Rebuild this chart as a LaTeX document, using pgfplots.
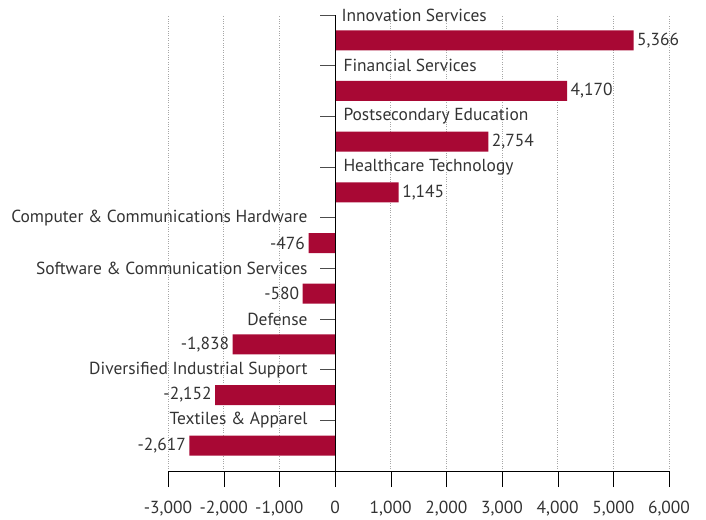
\documentclass[border=0pt]{standalone}
\usepackage{fontspec}
\setmainfont{PT Sans}
\usepackage{pgfplots}
\pgfplotsset{compat=1.18}
\definecolor{barred}{RGB}{168,8,52}
\definecolor{txt}{RGB}{51,51,51}
\newcommand{\lblfont}{\fontsize{17.5}{20}\selectfont}

\begin{document}
\begin{tikzpicture}
\begin{axis}[
    scale only axis,
    width=501bp, height=456bp,
    xmin=-3000, xmax=6000,
    ymin=0, ymax=9,
    xbar, bar width=20bp, bar shift=0pt,
    axis x line*=bottom,
    axis y line=none,
    xtick={-3000,-2000,...,6000},
    xticklabels={-3{,}000,-2{,}000,-1{,}000,0,1{,}000,2{,}000,3{,}000,4{,}000,5{,}000,6{,}000},
    tick align=outside,
    major tick length=16bp,
    xtick style={black},
    x tick label style={font=\lblfont, text=txt, yshift=-11bp},
    xmajorgrids,
    grid style={dotted, gray!70},
    nodes near coords,
    point meta=explicit symbolic,
    every node near coord/.append style={font=\lblfont, text=txt},
    clip=false,
]
% positive
\addplot[fill=barred, draw=none, every node near coord/.append style={anchor=west, xshift=0bp}]
coordinates {
(5366,8.5) [5{,}366]
(4170,7.5) [4{,}170]
(2754,6.5) [2{,}754]
(1145,5.5) [1{,}145]
};
% negative
\addplot[fill=barred, draw=none, every node near coord/.append style={anchor=east, xshift=0bp}]
coordinates {
(-476,4.5) [-476]
(-580,3.5) [-580]
(-1838,2.5) [-1{,}838]
(-2152,1.5) [-2{,}152]
(-2617,0.5) [-2{,}617]
};
\draw[black, thick] (axis cs:0,0) -- (axis cs:0,9);
\pgfplotsinvokeforeach{1,...,9}{
  \draw[gray!60!black, thick] ([xshift=-15bp]axis cs:0,#1) -- (axis cs:0,#1);
}
\begin{scope}[font=\lblfont, text=txt]
\node[anchor=west] at ([xshift=3bp]axis cs:0,9) {Innovation Services};
\node[anchor=west] at ([xshift=5bp]axis cs:0,8) {Financial Services};
\node[anchor=west] at ([xshift=5bp]axis cs:0,7) {Postsecondary Education};
\node[anchor=west] at ([xshift=5bp]axis cs:0,6) {Healthcare Technology};
\node[anchor=east] at ([xshift=-24bp]axis cs:0,5) {Computer \& Communications Hardware};
\node[anchor=east] at ([xshift=-24bp]axis cs:0,4) {Software \& Communication Services};
\node[anchor=east] at ([xshift=-24bp]axis cs:0,3) {Defense};
\node[anchor=east] at ([xshift=-24bp]axis cs:0,2) {Diversified Industrial Support};
\node[anchor=east] at ([xshift=-24bp]axis cs:0,1) {Textiles \& Apparel};
\end{scope}
\end{axis}
\path ([shift={(-168bp,-47bp)}]current axis.south west) rectangle ([shift={(37bp,15bp)}]current axis.north east);
\end{tikzpicture}
\end{document}
